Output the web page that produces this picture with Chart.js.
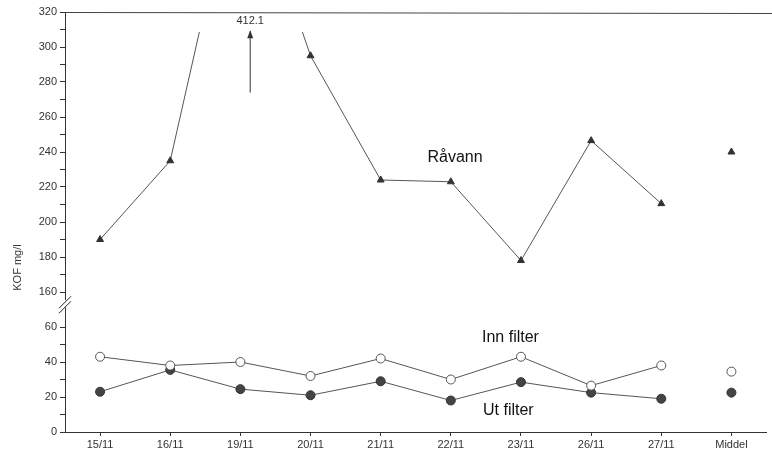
<!DOCTYPE html>
<html>
<head>
<meta charset="utf-8">
<script src="https://cdn.jsdelivr.net/npm/chart.js@4.4.1/dist/chart.umd.min.js"></script>
<style>
html, body { margin: 0; padding: 0; background: #fff; }
#wrap { width: 772px; height: 457px; }
</style>
</head>
<body>
<div id="wrap"><canvas id="chart"></canvas></div>
<script>
const dates = ['15/11', '16/11', '19/11', '20/11', '21/11', '22/11', '23/11', '26/11', '27/11', 'Middel'];
const raavann = [190, 235, 412.1, 295, 224, 223, 178, 246.5, 210.5, 240];
const innFilter = [43, 38, 40, 32, 42, 30, 43, 26.5, 38, 34.5];
const utFilter = [23, 35.5, 24.5, 21, 29, 18, 28.5, 22.5, 19, 22.5];
const lowerTicks = [0, 20, 40, 60];
const upperTicks = [160, 180, 200, 220, 240, 260, 280, 300, 320];
const peakLabel = '412.1';
const yTitle = 'KOF mg/l';

// the y axis is broken: everything above the break is shifted down by 80
const shift = 80;
const toAxis = v => (v > 100 ? v - shift : v);

const lineColor = '#555';
const font = "'Liberation Sans', Arial, sans-serif";

// the Middel points stand alone, no line to 27/11
const hideLast = ctx => (ctx.p1DataIndex === dates.length - 1 ? 'rgba(0,0,0,0)' : lineColor);

const decor = {
    id: 'decor',
    afterDraw(chart) {
        const c = chart.ctx;
        const x = chart.scales.x;
        const y = chart.scales.y;
        const a = chart.chartArea;
        c.save();
        // top frame line
        c.strokeStyle = '#444';
        c.lineWidth = 1;
        c.beginPath();
        c.moveTo(a.left, a.top + 0.5);
        c.lineTo(chart.width, a.top + 1.5);
        c.stroke();

        // axis break
        const yb = y.getPixelForValue(73);
        c.fillStyle = '#fff';
        c.fillRect(a.left - 3, yb - 4, 6, 7);
        c.strokeStyle = '#222';
        c.beginPath();
        c.moveTo(a.left - 6, yb + 4);
        c.lineTo(a.left + 6, yb - 8);
        c.moveTo(a.left - 6, yb + 9);
        c.lineTo(a.left + 6, yb - 3);
        c.stroke();

        // y title, sits low beside the axis
        c.save();
        c.translate(18, y.getPixelForValue(toAxis(174)));
        c.rotate(-Math.PI / 2);
        c.font = '11px ' + font;
        c.fillStyle = '#333';
        c.textAlign = 'center';
        c.textBaseline = 'middle';
        c.fillText(yTitle, 0, 0);
        c.restore();

        // arrow to the off-scale value
        const xa = x.getPixelForValue(2.14);
        const y1 = y.getPixelForValue(toAxis(274));
        const y2 = y.getPixelForValue(toAxis(309));
        c.strokeStyle = '#333';
        c.beginPath();
        c.moveTo(xa, y1);
        c.lineTo(xa, y2);
        c.stroke();
        c.fillStyle = '#333';
        c.beginPath();
        c.moveTo(xa, y2 - 1);
        c.lineTo(xa - 3, y2 + 7);
        c.lineTo(xa + 3, y2 + 7);
        c.closePath();
        c.fill();
        c.font = '11px ' + font;
        c.textAlign = 'center';
        c.textBaseline = 'middle';
        c.fillStyle = '#333';
        c.fillText(peakLabel, xa, y.getPixelForValue(toAxis(315)));

        // series names
        c.font = '16px ' + font;
        c.fillStyle = '#111';
        c.fillText('Råvann', x.getPixelForValue(5.06), y.getPixelForValue(toAxis(237)));
        c.fillText('Inn filter', x.getPixelForValue(5.85), y.getPixelForValue(54));
        c.fillText('Ut filter', x.getPixelForValue(5.82), y.getPixelForValue(12));
        c.restore();
    }
};

new Chart(document.getElementById('chart'), {
    type: 'line',
    data: {
        labels: dates,
        datasets: [
            {
                label: 'Råvann',
                data: raavann.map(toAxis),
                borderColor: lineColor,
                borderWidth: 1,
                pointStyle: 'triangle',
                pointRadius: 4,
                pointBackgroundColor: '#333',
                pointBorderColor: '#333',
                pointBorderWidth: 1,
                tension: 0,
                clip: { left: 10, top: -20, right: 10, bottom: 10 },
                segment: { borderColor: hideLast }
            },
            {
                label: 'Inn filter',
                data: innFilter,
                borderColor: lineColor,
                borderWidth: 1,
                pointStyle: 'circle',
                pointRadius: 4.5,
                pointBackgroundColor: '#fff',
                pointBorderColor: '#555',
                pointBorderWidth: 1,
                tension: 0,
                segment: { borderColor: hideLast }
            },
            {
                label: 'Ut filter',
                data: utFilter,
                borderColor: lineColor,
                borderWidth: 1,
                pointStyle: 'circle',
                pointRadius: 4.5,
                pointBackgroundColor: '#444',
                pointBorderColor: '#333',
                pointBorderWidth: 1,
                tension: 0,
                segment: { borderColor: hideLast }
            }
        ]
    },
    options: {
        responsive: true,
        maintainAspectRatio: false,
        animation: false,
        layout: { padding: { top: 12, right: 0, left: 0, bottom: 0 } },
        plugins: {
            legend: { display: false },
            tooltip: { enabled: false }
        },
        scales: {
            x: {
                offset: true,
                afterFit: s => { s.height = 25; },
                border: { color: '#333', width: 1 },
                grid: { drawOnChartArea: false, offset: false, tickLength: 4, tickColor: '#333' },
                ticks: { color: '#333', font: { family: font, size: 11 }, padding: 2, maxRotation: 0, autoSkip: false }
            },
            y: {
                min: 0,
                max: 240,
                afterFit: s => { s.width = 65; },
                afterBuildTicks: s => {
                    const list = [];
                    for (let v = 0; v <= 240; v += 10) {
                        if (v !== 70) list.push({ value: v });
                    }
                    s.ticks = list;
                },
                border: { color: '#333', width: 1 },
                grid: { drawOnChartArea: false, tickLength: 5, tickColor: '#333' },
                ticks: {
                    color: '#333',
                    font: { family: font, size: 11 },
                    padding: 3,
                    autoSkip: false,
                    callback: v => {
                        if (v <= 60) return lowerTicks.includes(v) ? String(v) : '';
                        return upperTicks.includes(v + shift) ? String(v + shift) : '';
                    }
                }
            }
        }
    },
    plugins: [decor]
});
</script>
</body>
</html>
